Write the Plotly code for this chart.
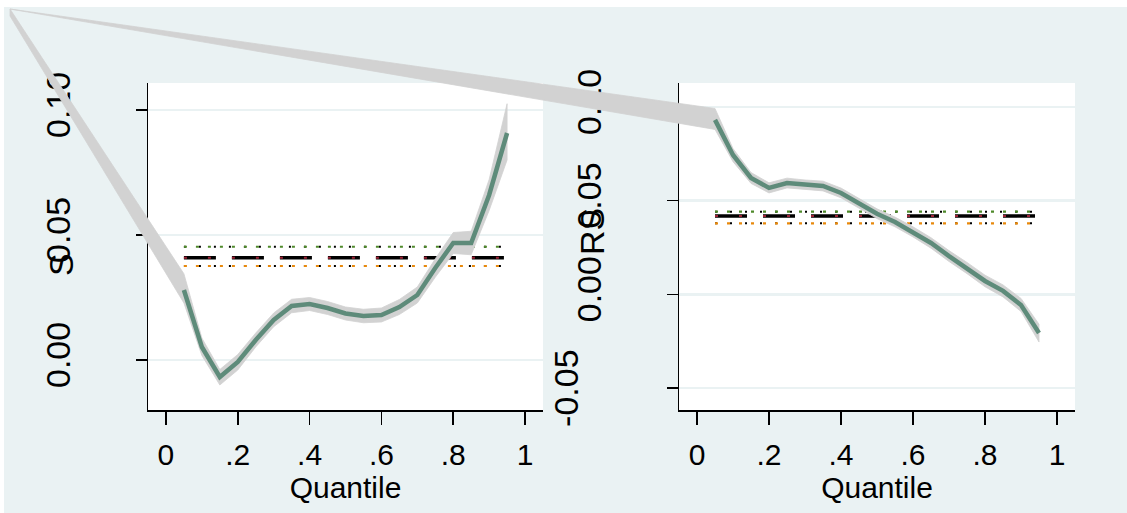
import plotly.graph_objects as go

W, H = 1127, 513

# ---------------- data ----------------
quantiles = [0.05, 0.10, 0.15, 0.20, 0.25, 0.30, 0.35, 0.40, 0.45, 0.50,
             0.55, 0.60, 0.65, 0.70, 0.75, 0.80, 0.85, 0.90, 0.95]

left_coef = [0.0280, 0.0052, -0.0068, -0.0008, 0.0080, 0.0160, 0.0216, 0.0224, 0.0208, 0.0186,
             0.0176, 0.0180, 0.0212, 0.0260, 0.0368, 0.0468, 0.0468, 0.0660, 0.0908]
left_hi = [0.0345, 0.0088, -0.0038, 0.0022, 0.0108, 0.0188, 0.0243, 0.0250, 0.0234, 0.0212,
           0.0203, 0.0208, 0.0242, 0.0292, 0.0405, 0.0510, 0.0515, 0.0722, 0.1025]
left_lo = [0.0228, 0.0018, -0.0100, -0.0040, 0.0052, 0.0133, 0.0189, 0.0198, 0.0182, 0.0160,
           0.0149, 0.0152, 0.0182, 0.0228, 0.0331, 0.0426, 0.0421, 0.0598, 0.0800]

right_coef = [0.0931, 0.0744, 0.0621, 0.0568, 0.0594, 0.0584, 0.0578, 0.0541, 0.0487, 0.0430,
              0.0386, 0.0333, 0.0274, 0.0204, 0.0140, 0.0071, 0.0018, -0.0057, -0.0207]
right_hi = [0.0992, 0.0778, 0.0650, 0.0595, 0.0620, 0.0610, 0.0604, 0.0567, 0.0513, 0.0456,
            0.0412, 0.0360, 0.0302, 0.0233, 0.0170, 0.0102, 0.0050, -0.0022, -0.0160]
right_lo = [0.0880, 0.0708, 0.0592, 0.0541, 0.0568, 0.0558, 0.0552, 0.0515, 0.0461, 0.0404,
            0.0360, 0.0306, 0.0246, 0.0175, 0.0110, 0.0040, -0.0014, -0.0092, -0.0255]

left_ols = 0.0409
left_ols_hi = 0.0453
left_ols_lo = 0.0376
right_ols = 0.0418
right_ols_hi = 0.0441
right_ols_lo = 0.0379

x_tickvals = [0, 0.2, 0.4, 0.6, 0.8, 1.0]
x_ticktext = ["0", ".2", ".4", ".6", ".8", "1"]
left_y_tickvals = [0.0, 0.05, 0.10]
left_y_ticktext = ["0.00", "0.05", "0.10"]
right_y_tickvals = [-0.05, 0.0, 0.05, 0.10]
right_y_ticktext = ["", "0.00", "0.05", "0.10"]
right_extra_label = "-0.05"
left_title = "S"
right_title = "RS"
x_title = "Quantile"

# ---------------- layout / style ----------------
BG = "#EAF2F3"
GRID = "#EAF2F3"
LINE_C = "#5E8B7A"
BAND_C = "rgb(210,210,210)"
FONT = "Liberation Sans, Arial, sans-serif"
# stray vertices of the CI polygons (rendering artifact), in pixels: (upper-edge end, lower-edge end)
STRAY_PX = {"left": ((10, 9), (10, 16)), "right": ((10, 9), (10, 9))}

panels = {
    "left": dict(box=(148, 83, 543, 410), xr=(-0.05, 1.05), yr=(-0.02, 0.1108)),
    "right": dict(box=(679, 83, 1075, 410), xr=(-0.05, 1.05), yr=(-0.0618, 0.1128)),
}


def px_to_data(p, px, py):
    l, t, r, b = p["box"]
    x0, x1 = p["xr"]
    y0, y1 = p["yr"]
    x = x0 + (px - l) / (r - l) * (x1 - x0)
    y = y1 - (py - t) / (b - t) * (y1 - y0)
    return x, y


fig = go.Figure()

series = {
    "left": (left_coef, left_lo, left_hi, left_ols, left_ols_lo, left_ols_hi, "x", "y", "x3", "y3"),
    "right": (right_coef, right_lo, right_hi, right_ols, right_ols_lo, right_ols_hi, "x2", "y2", "x4", "y4"),
}

# OLS reference lines on the panel axes
for name, (coef, lo, hi, ols, olo, ohi, pxa, pya, xa, ya) in series.items():
    qx = [quantiles[0], quantiles[-1]]
    for yv, col, dash, wd in [
        (ohi, "black", "2px,13px", 2),
        (ohi, "#4F8A2B", "3px,9px", 2.2),
        (olo, "black", "2px,13px", 2),
        (olo, "#E8890C", "3px,9px", 2.2),
        (ols, "black", "32px,16px", 3.5),
        (ols, "#9B2335", "3px,21px", 2),
    ]:
        fig.add_trace(go.Scatter(x=qx, y=[yv, yv], mode="lines",
                                 line=dict(color=col, width=wd, dash=dash),
                                 xaxis=pxa, yaxis=pya, hoverinfo="skip", showlegend=False))

# CI band (with its stray vertices) and quantile curve on full-figure axes
for name, (coef, lo, hi, ols, olo, ohi, pxa, pya, xa, ya) in series.items():
    p = panels[name]
    (ux, uy) = px_to_data(p, *STRAY_PX[name][0])
    (lx, ly) = px_to_data(p, *STRAY_PX[name][1])
    bx = [ux] + quantiles + quantiles[::-1] + [lx, ux]
    by = [uy] + hi + lo[::-1] + [ly, uy]
    fig.add_trace(go.Scatter(x=bx, y=by, mode="lines", fill="toself", fillcolor=BAND_C,
                             line=dict(color=BAND_C, width=0.8), xaxis=xa, yaxis=ya,
                             hoverinfo="skip", showlegend=False))
    fig.add_trace(go.Scatter(x=quantiles, y=coef, mode="lines",
                             line=dict(color=LINE_C, width=4.5),
                             xaxis=xa, yaxis=ya, hoverinfo="skip", showlegend=False))

layout = dict(
    width=W, height=H, autosize=False,
    margin=dict(l=0, r=0, t=0, b=0, pad=0),
    paper_bgcolor="white", plot_bgcolor="rgba(0,0,0,0)",
    showlegend=False,
    font=dict(family=FONT, size=28, color="black"),
)

tick_font = dict(family=FONT, size=30, color="black")
title_font = dict(family=FONT, size=30, color="black")
ytick_font = dict(family=FONT, size=34, color="black")

shapes = [dict(type="rect", xref="paper", yref="paper", x0=4 / W, x1=1, y0=0, y1=(H - 7) / H,
               fillcolor=BG, line=dict(width=0), layer="below")]
annotations = []

for i, name in enumerate(["left", "right"]):
    p = panels[name]
    l, t, r, b = p["box"]
    sfx = "" if i == 0 else "2"
    xdom = [l / W, r / W]
    ydom = [(H - b) / H, (H - t) / H]
    layout["xaxis" + sfx] = dict(
        domain=xdom, range=list(p["xr"]), anchor="y" + sfx, showgrid=False, zeroline=False,
        showline=True, linecolor="black", linewidth=1.5, ticks="outside", ticklen=13,
        tickwidth=1.5, tickcolor="black", tickvals=x_tickvals, ticktext=x_ticktext,
        tickfont=tick_font, ticklabelstandoff=4,
        title=dict(text=x_title, font=title_font, standoff=1), automargin=False, fixedrange=True)
    yv = left_y_tickvals if i == 0 else right_y_tickvals
    yt = left_y_ticktext if i == 0 else right_y_ticktext
    layout["yaxis" + sfx] = dict(
        domain=ydom, range=list(p["yr"]), anchor="x" + sfx, showgrid=True, gridcolor=GRID,
        gridwidth=2.5, zeroline=False, showline=True, linecolor="black", linewidth=1.5,
        ticks="outside", ticklen=11, tickwidth=1.5, tickcolor="black", tickvals=yv,
        ticktext=yt, tickangle=-90, tickfont=ytick_font, ticklabelstandoff=52,
        automargin=False, fixedrange=True)
    shapes.append(dict(type="rect", xref=f"x{sfx} domain", yref=f"y{sfx} domain",
                       x0=0, x1=1, y0=0, y1=1, fillcolor="white", line=dict(width=0),
                       layer="below"))
    # full-figure overlay axes carrying the panel's data scale
    fx0, fy1 = px_to_data(p, 0, 0)
    fx1, fy0 = px_to_data(p, W, H)
    k = 3 + i
    layout[f"xaxis{k}"] = dict(domain=[0, 1], range=[fx0, fx1], anchor=f"y{k}",
                               visible=False, fixedrange=True)
    layout[f"yaxis{k}"] = dict(domain=[0, 1], range=[fy0, fy1], anchor=f"x{k}",
                               visible=False, fixedrange=True)

# axis titles (drawn overlapping the tick labels, as in the original)
annotations.append(dict(text=left_title, xref="paper", yref="paper", x=61 / W, y=(H - 265) / H,
                        textangle=-90, showarrow=False, font=ytick_font,
                        xanchor="center", yanchor="middle"))
annotations.append(dict(text=right_title, xref="paper", yref="paper", x=592 / W, y=(H - 232) / H,
                        textangle=-90, showarrow=False, font=ytick_font,
                        xanchor="center", yanchor="middle"))
annotations.append(dict(text=right_extra_label, xref="paper", yref="y2", x=566 / W, y=-0.05,
                        textangle=-90, showarrow=False, font=ytick_font,
                        xanchor="center", yanchor="middle"))

layout["shapes"] = shapes
layout["annotations"] = annotations
fig.update_layout(**layout)

fig.write_html("out.html", config={"displayModeBar": False, "staticPlot": True},
               post_script="document.body.style.margin='0';document.body.style.overflow='hidden';")
